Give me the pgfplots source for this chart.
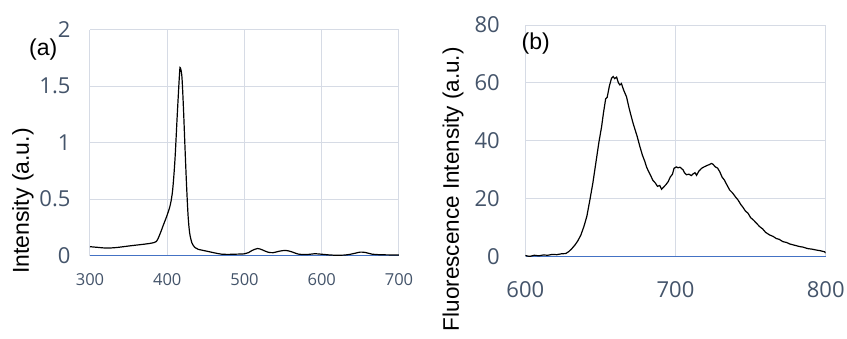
\documentclass[border=0pt]{standalone}
\usepackage{pgfplots}
\pgfplotsset{compat=1.18}
\usepackage{fontspec}
\setmainfont{Liberation Sans}
\newfontfamily\tickfont{Open Sans}
\definecolor{tickc}{RGB}{68,84,106}
\definecolor{gridc}{RGB}{214,219,229}
\definecolor{axc}{RGB}{68,114,196}
\pgfplotsset{
  excelstyle/.style={
    anchor=south west, scale only axis,
    grid=major, major grid style={gridc, line width=1pt},
    axis x line*=bottom, axis y line*=left,
    x axis line style={axc, line width=1pt},
    y axis line style={gridc, line width=1pt},
    major tick length=0pt,
    /pgf/number format/assume math mode=true,
    tick label style={text=tickc},
    clip=true,
  }
}
\begin{document}
\begin{tikzpicture}
\useasboundingbox (0,0) rectangle (847pt,338pt);
\begin{axis}[excelstyle,
  at={(90pt,82.5pt)}, width=309pt, height=226pt,
  xmin=300, xmax=700, ymin=0, ymax=2,
  xtick={300,400,500,600,700}, ytick={0,0.5,1,1.5,2},
  xticklabel style={font=\tickfont\fontsize{16.5}{18}\selectfont, anchor=center, yshift=-24.5pt},
  yticklabel style={font=\tickfont\fontsize{22}{24}\selectfont, anchor=east, inner sep=0pt, xshift=-19.3pt},
  ylabel={Intensity (a.u.)},
  ylabel style={font=\fontsize{23}{25}\selectfont, at={(axis description cs:-0.2168,0.564)}, anchor=east, inner sep=0pt, rotate=0},
]
\addplot[black, line width=1.2pt, smooth, tension=0.5] coordinates {
(300,0.078)(310,0.072)(320,0.066)(330,0.068)(340,0.075)(350,0.084)(360,0.092)(370,0.10)(380,0.11)
(386,0.125)(390,0.18)(395,0.27)(400,0.36)(404,0.45)(407,0.58)(410,0.85)(413,1.25)(416,1.62)(417,1.66)
(419,1.58)(421,1.30)(423,0.95)(425,0.62)(427,0.35)(429,0.20)(432,0.11)(436,0.07)(440,0.055)(450,0.04)
(460,0.025)(470,0.012)(480,0.01)(490,0.012)(500,0.015)(505,0.025)(510,0.045)(517,0.062)(523,0.05)
(530,0.03)(537,0.025)(545,0.038)(553,0.045)(560,0.035)(570,0.012)(580,0.008)(590,0.015)(597,0.013)
(605,0.008)(615,0.003)(630,0.004)(640,0.015)(650,0.03)(657,0.026)(665,0.012)(675,0.007)(690,0.005)(700,0.004)
};
\end{axis}
\node at (43.3pt,288.8pt) {\fontsize{23}{25}\selectfont (a)};
\begin{axis}[excelstyle,
  at={(525.3pt,81.3pt)}, width=300.4pt, height=231.7pt,
  xmin=600, xmax=800, ymin=0, ymax=80,
  xtick={600,700,800}, ytick={0,20,40,60,80},
  xticklabel style={font=\tickfont\fontsize{22}{24}\selectfont, anchor=center, yshift=-33.3pt},
  yticklabel style={font=\tickfont\fontsize{22}{24}\selectfont, anchor=east, inner sep=0pt, xshift=-25.3pt},
  ylabel={Fluorescence Intensity (a.u.)},
  ylabel style={font=\fontsize{22.5}{25}\selectfont, at={(axis description cs:-0.2407,0.905)}, anchor=east, inner sep=0pt, rotate=0},
]
\addplot[black, line width=1.2pt] coordinates {
(600,0.4)(603,0.1)(606,0.5)(609,0.3)(612,0.6)(615,0.5)(618,0.8)(621,0.7)(624,1.0)(627,1.1)(629,1.8)
(631,2.8)(633,4.0)(635,5.5)(637,7.5)(639,10.4)(641,14.0)(643,19.6)(645,25.5)(647,32.5)(649,39.5)
(650.8,44.9)(652,49.5)(653.5,54.5)(654.5,55.0)(656,59.0)(657.4,61.6)(658.5,62.2)(659.5,61.5)(660.8,62.0)
(662,60.0)(663,59.3)(664,59.8)(665.5,57.5)(667.4,55.2)(669,51.5)(670.5,48.5)(671.8,46.0)(673,44.0)
(674.5,41.5)(676.3,38.0)(678,35.0)(679.5,33.0)(680.7,31.0)(682,29.5)(683.5,28.0)(685,26.3)(686.5,25.5)
(688,24.3)(689.5,24.6)(690.7,23.3)(692,24.0)(693.5,24.8)(695.1,25.9)(696.5,27.5)(698,28.5)(699,30.5)
(700.5,31.0)(701.7,30.7)(703,30.9)(705,30.0)(706,29.0)(707.3,28.3)(709,28.5)(710.5,28.0)(711.7,28.6)
(713,29.0)(714,28.1)(715.5,29.5)(717.3,30.5)(719,31.0)(721,31.5)(722.5,31.8)(723.9,32.2)(725,31.9)
(726.5,31.0)(728,30.6)(729.5,29.3)(731,27.5)(732.5,26.5)(734,25.0)(736.1,23.0)(738,22.0)(740,20.6)
(741.6,19.6)(743.5,18.0)(745,17.0)(746.5,15.8)(748.3,15.0)(750,13.5)(752,12.6)(754,11.5)(756,10.4)
(758,9.6)(760,8.4)(762.7,7.5)(765,7.0)(767,6.3)(769,6.0)(771.5,5.2)(774,4.9)(776,4.4)(779,4.0)
(782.6,3.5)(785,3.3)(788,2.8)(791,2.6)(793.7,2.3)(796,2.1)(799.3,1.7)(800,1.3)
};
\end{axis}
\node at (535.8pt,294.7pt) {\fontsize{23}{25}\selectfont (b)};
\end{tikzpicture}
\end{document}
